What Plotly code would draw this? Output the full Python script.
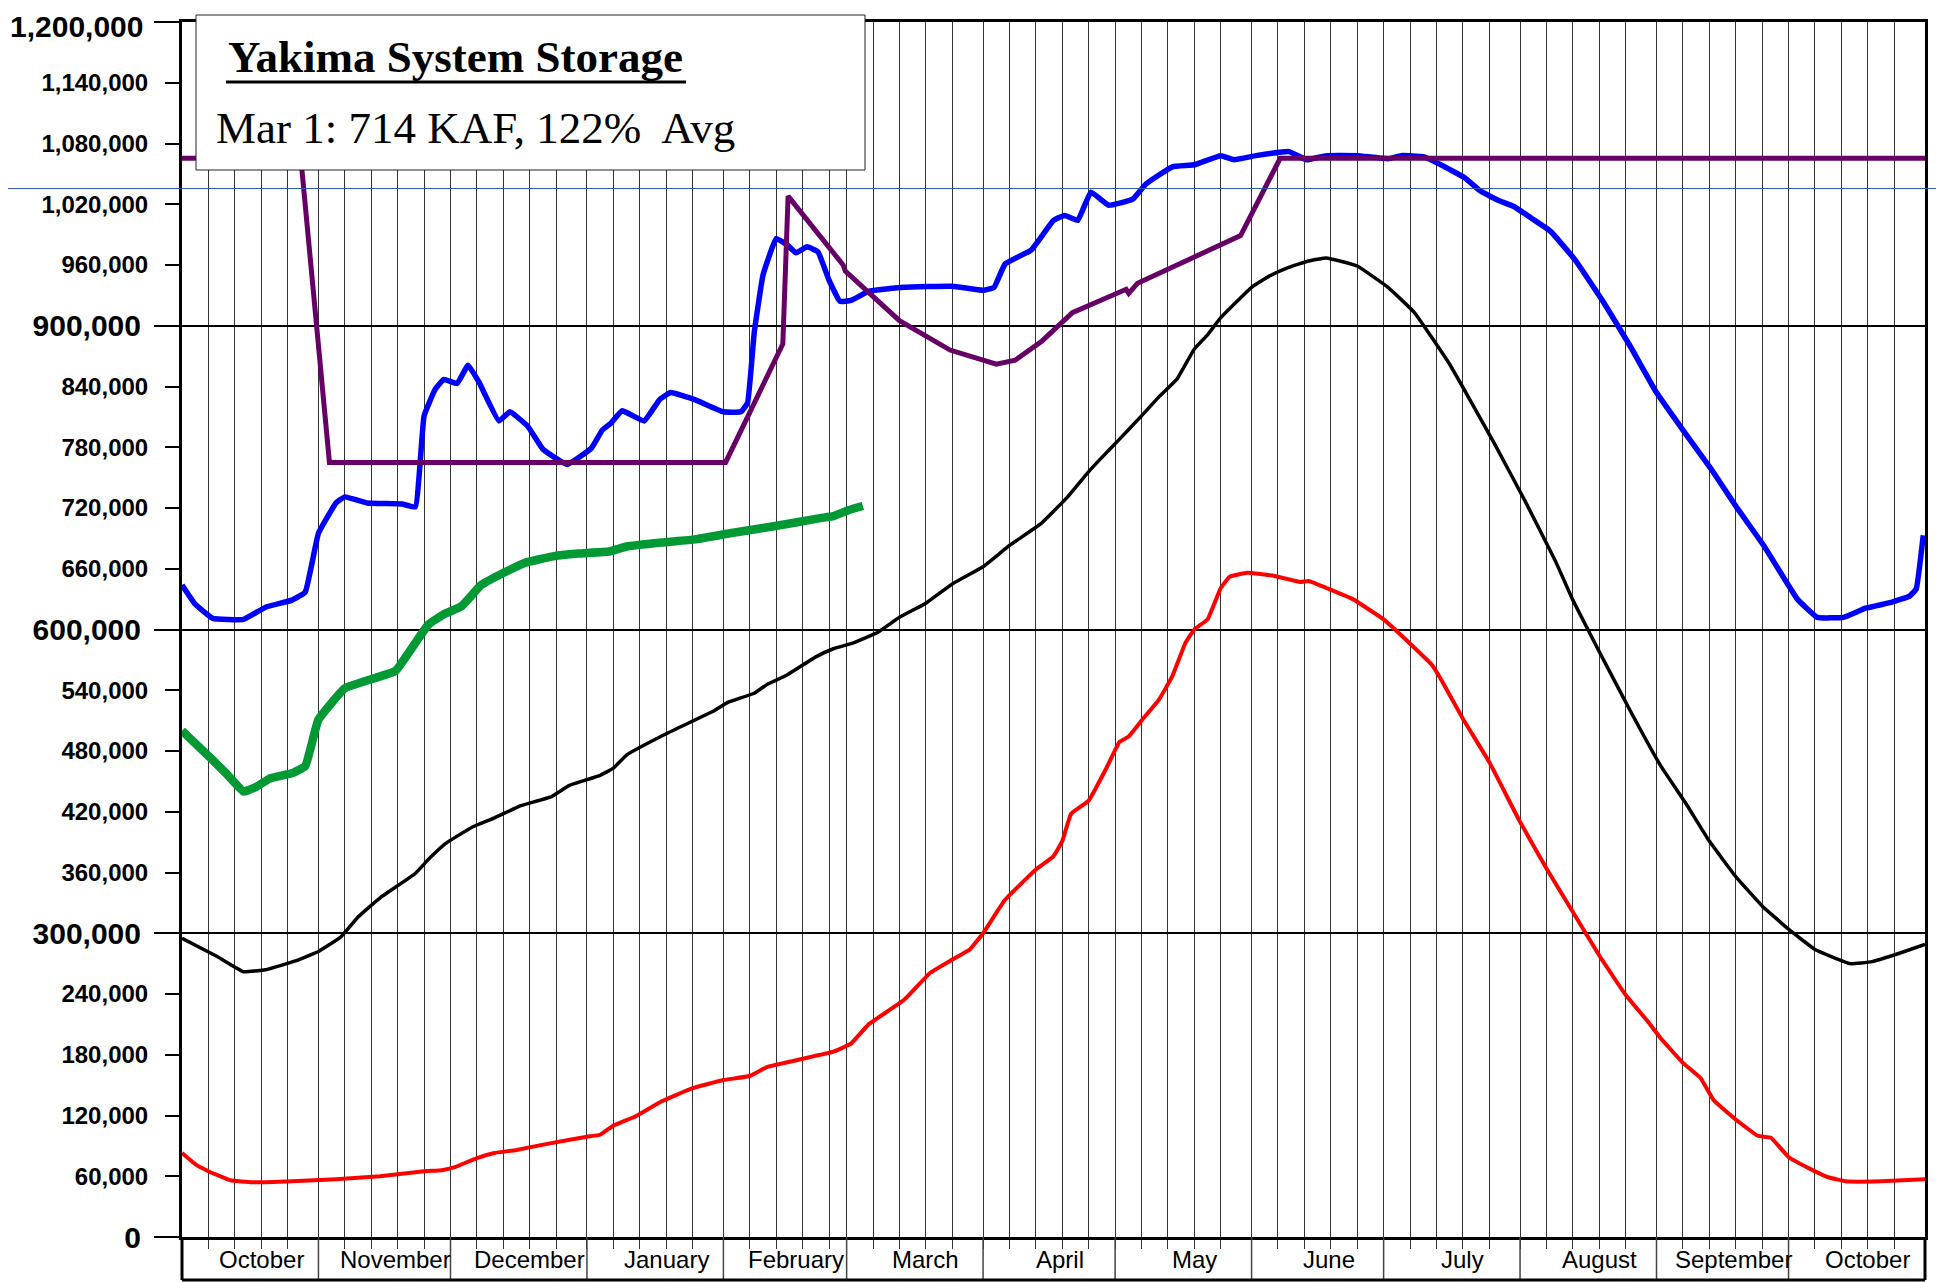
import plotly.graph_objects as go

# Yakima system storage, water year Oct 1 -> Oct 31 (day 0 = Oct 1), values in KAF

month_names = ["October", "November", "December", "January", "February", "March", "April",
               "May", "June", "July", "August", "September", "October"]
month_lengths = [31, 30, 31, 31, 28, 31, 30, 31, 30, 31, 31, 30, 31]

# average storage (black)
avg_days = [0, 8, 14, 19, 26, 31, 36, 40, 45, 53, 56, 60, 66, 71, 77, 84, 88, 95, 98, 101,
            110, 121, 124, 130, 133, 137, 144, 148, 152, 158, 163, 169, 175, 182, 188, 195,
            201, 206, 209, 213, 218, 222, 226, 230, 233, 236, 243, 247, 251, 256, 260, 267,
            274, 280, 288, 298, 305, 312, 316, 322, 329, 336, 342, 347, 353, 359, 365, 371,
            379, 384, 390, 396]
avg_kaf = [295, 277, 262, 264, 273, 282, 296, 316, 335, 359, 373, 389, 405, 414, 426, 435, 446,
           456, 463, 476, 497, 520, 528, 537, 546, 554, 573, 581, 586, 597, 612, 626, 645, 662,
           683, 704, 730, 756, 770, 788, 811, 830, 847, 877, 891, 908, 938, 949, 957, 964, 967,
           959, 938, 913, 862, 785, 728, 668, 629, 578, 520, 465, 426, 391, 356, 327, 304, 284,
           270, 272, 280, 289]

# minimum storage (red)
min_days = [0, 3, 6, 11, 16, 25, 35, 45, 55, 59, 62, 67, 71, 76, 83, 92, 95, 98, 103, 109,
            116, 123, 129, 133, 141, 148, 152, 156, 164, 170, 175, 179, 182, 187, 194, 198,
            200, 202, 206, 210, 213, 215, 218, 222, 225, 228, 230, 233, 236, 238, 242, 248,
            254, 256, 260, 266, 273, 280, 284, 286, 291, 297, 304, 310, 316, 322, 328, 333,
            336, 341, 345, 348, 353, 358, 361, 365, 370, 374, 378, 386, 396]
min_kaf = [83, 72, 65, 56, 54, 55, 57, 60, 65, 66, 69, 78, 83, 86, 92, 99, 101, 110, 119, 134,
           147, 155, 159, 168, 176, 183, 191, 210, 234, 261, 274, 284, 300, 333, 363, 376, 391,
           418, 431, 463, 489, 494, 510, 531, 554, 587, 600, 610, 641, 652, 656, 653, 647, 648,
           641, 630, 610, 582, 565, 551, 512, 469, 410, 364, 321, 278, 239, 213, 196, 172, 157,
           135, 116, 100, 98, 79, 67, 59, 55, 55, 57]

# maximum storage (blue)
max_days = [0, 3, 7, 14, 19, 25, 28, 31, 35, 37, 42, 50, 53, 55, 57.5, 59.5, 62.5, 65, 67.5,
            72, 74.5, 78.5, 82, 87.5, 93, 95.5, 97.5, 100, 105, 108.5, 111, 116.5, 123, 127,
            128.5, 130, 132, 135, 137.5, 139.5, 142, 144.5, 147, 149.5, 152, 156, 164, 175,
            182, 184.5, 187, 193, 198, 200.5, 203.5, 206.5, 210.5, 216, 219, 225, 230, 236,
            239, 244, 251.5, 255.5, 260, 267, 274, 277, 282, 286, 291.5, 295, 299, 302.5, 307,
            311, 316.5, 323, 329, 335, 341, 347.5, 353, 359.5, 367, 371.5, 377.5, 382.5, 388.5,
            392.5, 394, 395.6]
max_kaf = [644, 625, 611, 610, 622, 629, 637, 695, 725, 731, 725, 724, 721, 811, 837, 847, 843,
           861, 844, 806, 815, 801, 778, 763, 779, 797, 804, 816, 806, 827, 834, 827, 815, 815,
           824, 893, 950, 986, 980, 972, 978, 973, 945, 924, 925, 934, 938, 939, 935, 938, 961,
           975, 1004, 1009, 1004, 1032, 1019, 1025, 1040, 1057, 1059, 1068, 1064, 1068, 1072,
           1064, 1068, 1068, 1065, 1068, 1067, 1059, 1046, 1033, 1024, 1018, 1005, 993, 965,
           923, 880, 834, 797, 758, 722, 682, 630, 612, 612, 621, 627, 633, 640, 693]

# flood control / rule curve (purple)
rule_days = [0, 27, 33.5, 123.5, 136.5, 137.7, 150.2, 150.7, 163, 174.5, 185, 189.3, 195.4,
             202.3, 214.5, 215.1, 217.1, 240.5, 249.5, 396]
rule_kaf = [1065.4, 1065.4, 765, 765, 882, 1028, 960, 954, 905, 876, 862, 866, 885, 913, 936,
            932, 942, 989, 1065.4, 1065.4]

# current water year (green)
cur_days = [0, 7, 10, 14, 17, 20, 25, 28, 31, 37, 48.5, 51.5, 54, 56, 59.5, 63.5, 68, 74, 78,
            84, 90, 97, 101, 109, 116.5, 124.5, 134.5, 145, 148, 151.5, 154.7]
cur_kaf = [500, 471, 458, 440, 445, 453, 458, 465, 511, 542, 559, 577, 593, 605, 615, 623, 644,
           658, 666, 672, 675, 677, 682, 686, 689, 695, 702, 710, 712, 718, 722]

capacity_line = 1035500
minor_ticks = [v for v in range(60000, 1200000, 60000) if v % 300000]
major_ticks = [0, 300000, 600000, 900000, 1200000]
y_top = 1200000

SANS = "Liberation Sans, Arial, sans-serif"
SERIF = "Liberation Serif, Times New Roman, serif"

# the page body adds an 8px offset, so the figure is laid out 8px up/left of the screen
W, H = 1944, 1282
OFF = 8
ML, MT = 182 - OFF, 22 - OFF
MR = W - (1925 - OFF)
MB = H - (1237 - OFF)
PW, PH = W - ML - MR, H - MT - MB
band = 43 / PH


def px(sx):
    return (sx - OFF - ML) / PW


def py(sy):
    return (MT + PH - (sy - OFF)) / PH


month_starts = [sum(month_lengths[:i]) for i in range(len(month_lengths))]
grid_days = [s + d for s in month_starts for d in (0, 6, 12, 18, 24)]
total_days = sum(month_lengths)

fig = go.Figure()

# (x, y, colour, width, shape, y axis)
series = [
    (min_days, min_kaf, "#ff0000", 4, "spline", "y"),
    (max_days, max_kaf, "#0000ff", 5.5, "spline", "y"),
    (rule_days, rule_kaf, "#660066", 5, "linear", "y"),
    (cur_days, cur_kaf, "#009933", 8.5, "spline", "y"),
    (avg_days, avg_kaf, "black", 3.5, "spline", "y2"),
]
for xs, ys, color, width, shape, yax in series:
    fig.add_trace(go.Scatter(
        x=xs, y=[v * 1000 for v in ys], mode="lines", yaxis=yax,
        line=dict(color=color, width=width, shape=shape, smoothing=0.3),
        hoverinfo="skip"
    ))

shapes = []
# month separators and border of the label band
for s in month_starts + [total_days]:
    shapes.append(dict(type="line", xref="x", yref="paper", x0=s, x1=s, y0=0, y1=-band,
                       line=dict(color="#444444", width=1.5)))
shapes.append(dict(type="line", xref="paper", yref="paper", x0=0, x1=1, y0=-band, y1=-band,
                   line=dict(color="black", width=3)))
shapes.append(dict(type="line", xref="paper", yref="paper", x0=0, x1=0, y0=-band, y1=0,
                   line=dict(color="black", width=3)))
shapes.append(dict(type="line", xref="paper", yref="paper", x0=1, x1=1, y0=-band, y1=0,
                   line=dict(color="black", width=3)))
# thin reference line across the whole figure
shapes.append(dict(type="line", xref="paper", yref="paper", x0=-ML / PW, x1=1 + MR / PW,
                   y0=capacity_line / y_top, y1=capacity_line / y_top,
                   line=dict(color="#2a55b0", width=1)))
# title box
shapes.append(dict(type="rect", xref="paper", yref="paper",
                   x0=px(196), x1=px(865), y0=py(170), y1=py(15),
                   fillcolor="white", line=dict(color="#222222", width=1)))
shapes.append(dict(type="line", xref="paper", yref="paper",
                   x0=px(226), x1=px(686), y0=py(82), y1=py(82),
                   line=dict(color="black", width=3)))

annotations = []
for name, s, n in zip(month_names, month_starts, month_lengths):
    annotations.append(dict(x=s + n / 2 + 2.5, y=-22 / PH, xref="x", yref="paper",
                            text=name, showarrow=False, xanchor="center", yanchor="middle",
                            font=dict(family=SANS, size=24, color="black")))
annotations.append(dict(x=px(226), y=py(57), xref="paper", yref="paper",
                        text="<b>Yakima System Storage</b>", showarrow=False,
                        xanchor="left", yanchor="middle",
                        font=dict(family=SERIF, size=45, color="black")))
annotations.append(dict(x=px(214), y=py(128), xref="paper", yref="paper",
                        text="Mar 1: 714 KAF, 122%  Avg", showarrow=False,
                        xanchor="left", yanchor="middle",
                        font=dict(family=SERIF, size=45, color="black")))
# top axis label sits at the very edge of the page, keep it inside
annotations.append(dict(x=px(145), y=1 + MT / PH, xref="paper", yref="paper",
                        text=f"<b>{y_top:,}</b>", showarrow=False,
                        xanchor="right", yanchor="top",
                        font=dict(family=SANS, size=30, color="black")))

fig.update_layout(
    width=W, height=H,
    margin=dict(l=ML, r=MR, t=MT, b=MB, autoexpand=False),
    paper_bgcolor="white", plot_bgcolor="white",
    showlegend=False,
    shapes=shapes,
    annotations=annotations,
    xaxis=dict(
        range=[0, total_days], tickvals=grid_days, showticklabels=False, automargin=False,
        showgrid=True, gridcolor="#333333", gridwidth=1,
        ticks="outside", ticklen=9, tickcolor="#333333", tickwidth=1,
        showline=True, linecolor="black", linewidth=3, mirror=True, zeroline=False,
    ),
    yaxis=dict(
        range=[0, y_top], tickvals=minor_ticks, ticktext=[f"{v:,}" for v in minor_ticks],
        tickfont=dict(family=SANS, size=24, color="black", weight="bold"), automargin=False,
        ticks="outside", ticklen=14, tickwidth=1.5, tickcolor="black", ticklabelstandoff=12,
        showgrid=False, zeroline=False,
        showline=True, linecolor="black", linewidth=3, mirror=True,
    ),
    yaxis2=dict(
        range=[0, y_top], overlaying="y", side="left", anchor="x", automargin=False,
        tickvals=major_ticks,
        ticktext=[f"{v:,}" if v < y_top else "" for v in major_ticks],
        tickfont=dict(family=SANS, size=30, color="black", weight="bold"),
        ticks="outside", ticklen=27, tickwidth=1.5, tickcolor="black", ticklabelstandoff=7,
        showgrid=True, gridcolor="black", gridwidth=1.5, zeroline=False, showline=False,
    ),
)

fig.write_html("out.html")
